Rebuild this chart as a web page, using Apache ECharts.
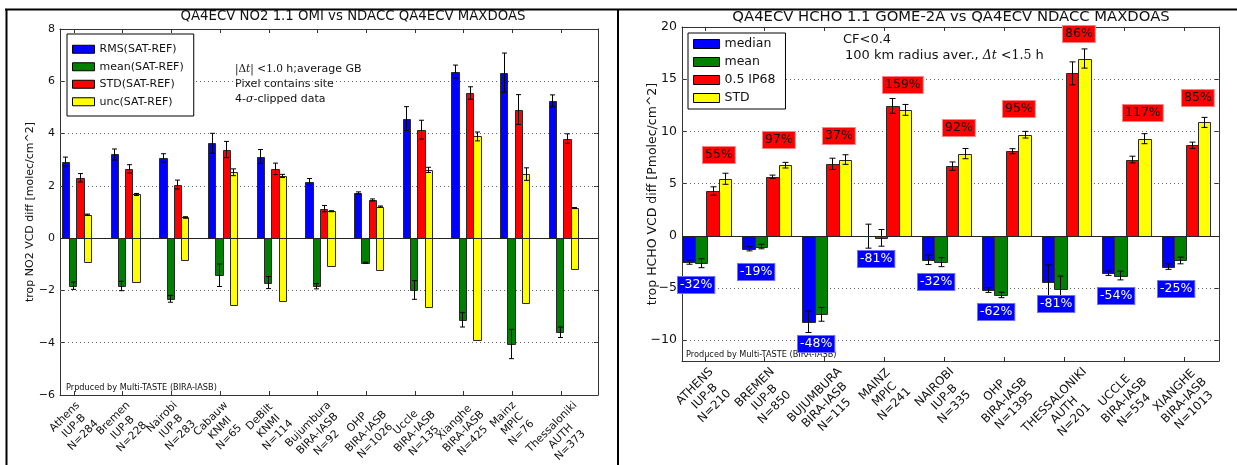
<!DOCTYPE html>
<html><head><meta charset="utf-8">
<script src="https://cdn.jsdelivr.net/npm/echarts@6/dist/echarts.min.js"></script>
<style>html,body{margin:0;padding:0;background:#fff}#c{width:1237px;height:465px}</style>
</head><body><div id="c"></div>
<script>
// ---------------- DATA ----------------
// Left chart: QA4ECV NO2 (OMI vs MAXDOAS)
const no2Categories = [
  ['Athens','IUP-B','N=284'], ['Bremen','IUP-B','N=228'], ['Nairobi','IUP-B','N=283'],
  ['Cabauw','KNMI','N=65'], ['DeBilt','KNMI','N=114'], ['Bujumbura','BIRA-IASB','N=92'],
  ['OHP','BIRA-IASB','N=1026'], ['Uccle','BIRA-IASB','N=135'], ['Xianghe','BIRA-IASB','N=425'],
  ['Mainz','MPIC','N=76'], ['Thessaloniki','AUTH','N=373']
];
const no2Rms      = [2.93, 3.20, 3.07, 3.63, 3.12, 2.15, 1.73, 4.57, 6.37, 6.33, 5.25];
const no2RmsErr   = [0.17, 0.21, 0.16, 0.38, 0.27, 0.13, 0.04, 0.46, 0.25, 0.75, 0.23];
const no2Mean     = [-1.82, -1.83, -2.32, -1.42, -1.70, -1.84, -0.94, -1.98, -3.12, -4.05, -3.60];
const no2MeanErr  = [0.14, 0.18, 0.13, 0.43, 0.23, 0.10, 0.02, 0.36, 0.28, 0.56, 0.20];
const no2Std      = [2.31, 2.65, 2.05, 3.39, 2.65, 1.13, 1.46, 4.15, 5.55, 4.92, 3.81];
const no2StdErr   = [0.16, 0.16, 0.17, 0.31, 0.22, 0.12, 0.04, 0.36, 0.24, 0.57, 0.18];
const no2UncUp    = [0.90, 1.67, 0.79, 2.52, 2.38, 1.03, 1.21, 2.61, 3.89, 2.45, 1.15];
const no2UncUpErr = [0.02, 0.04, 0.03, 0.13, 0.06, 0.02, 0.02, 0.10, 0.17, 0.24, 0.02];
const no2UncDown  = [-0.93, -1.69, -0.83, -2.57, -2.40, -1.06, -1.23, -2.65, -3.91, -2.47, -1.17];
const no2YTicks   = [-6, -4, -2, 0, 2, 4, 6, 8];
const no2GridLines = [-4, -2, 2, 4, 6];
const no2Legend   = ['RMS(SAT-REF)', 'mean(SAT-REF)', 'STD(SAT-REF)', 'unc(SAT-REF)'];

// Right chart: QA4ECV HCHO (GOME-2A vs MAXDOAS)
const hchoCategories = [
  ['ATHENS','IUP-B','N=210'], ['BREMEN','IUP-B','N=850'], ['BUJUMBURA','BIRA-IASB','N=115'],
  ['MAINZ','MPIC','N=241'], ['NAIROBI','IUP-B','N=335'], ['OHP','BIRA-IASB','N=1395'],
  ['THESSALONIKI','AUTH','N=201'], ['UCCLE','BIRA-IASB','N=554'], ['XIANGHE','BIRA-IASB','N=1013']
];
const hchoMedian    = [-2.53, -1.25, -8.24, -0.04, -2.31, -5.19, -4.39, -3.59, -2.95];
const hchoMedianErr = [0.20, 0.20, 1.03, 1.15, 0.45, 0.24, 1.60, 0.21, 0.27];
const hchoMean      = [-2.63, -1.03, -7.53, -0.20, -2.53, -5.67, -5.10, -3.81, -2.37];
const hchoMeanErr   = [0.43, 0.22, 0.66, 0.80, 0.43, 0.26, 1.23, 0.42, 0.32];
const hchoIp68      = [4.29, 5.65, 6.89, 12.44, 6.67, 8.10, 15.56, 7.30, 8.67];
const hchoIp68Err   = [0.40, 0.16, 0.54, 0.71, 0.40, 0.24, 1.10, 0.32, 0.30];
const hchoStd       = [5.46, 6.76, 7.30, 12.06, 7.87, 9.68, 16.98, 9.30, 10.86];
const hchoStdErr    = [0.53, 0.27, 0.46, 0.52, 0.49, 0.32, 0.92, 0.48, 0.48];
const hchoRedPct    = ['55%', '97%', '37%', '159%', '92%', '95%', '86%', '117%', '85%'];
const hchoRedPctY   = [7.7, 9.2, 9.6, 14.4, 10.3, 12.1, 19.3, 11.75, 13.2];
const hchoBluePct   = ['-32%', '-19%', '-48%', '-81%', '-32%', '-62%', '-81%', '-54%', '-25%'];
const hchoBluePctY  = [-4.7, -3.45, -10.4, -2.2, -4.4, -7.3, -6.5, -5.8, -5.1];
const hchoYTicks    = [-10, -5, 0, 5, 10, 15, 20];
const hchoGridLines = [-10, -5, 5, 10, 15];
const hchoLegend    = ['median', 'mean', '0.5 IP68', 'STD'];

// ---------------- LAYOUT / STYLE ----------------
const FONT = 'DejaVu Sans';
const W = 1237, H = 465;
const LG = {left: 60, top: 29, right: 598, bottom: 395, xmin: -0.287, xmax: 10.76, ymin: -6, ymax: 8};
const RG = {left: 682, top: 27, right: 1219, bottom: 361, xmin: -0.38, xmax: 8.58, ymin: -12, ymax: 20};
const BLUE = '#0000ff', GREEN = '#008000', RED = '#ff0000', YELLOW = '#ffff00';
const AXIS = '#333';

const mctx = document.createElement('canvas').getContext('2d');
function textW(s, size) { mctx.font = size + 'px "' + FONT + '"'; return mctx.measureText(s).width; }
const minus = v => String(v).replace('-', '\u2212');

function labelSetup(cats, fs, lh, g) {
  const ppu = (g.right - g.left) / (g.xmax - g.xmin);
  const h = cats[0].length * lh;
  const rich = {}, vals = [];
  cats.forEach((c, i) => {
    const w = Math.max(...c.map(s => textW(s, fs)));
    rich['c' + i] = {width: w, align: 'center', fontSize: fs, lineHeight: lh, fontFamily: FONT, color: '#111'};
    vals.push(i + 0.354 * (w - h) / ppu);
  });
  return {rich, vals, fmt: v => { const i = Math.round(v); return cats[i].map(s => '{c' + i + '|' + s + '}').join('\n'); }};
}

// three x axes per grid: bottom (line, ticks, even labels), bottom (odd labels only), top (frame + ticks)
function xAxes(gi, g, cats, fs, lh) {
  const ticks = cats.map((_, i) => i);
  const ls = labelSetup(cats, fs, lh, g);
  const common = {gridIndex: gi, type: 'value', min: g.xmin, max: g.xmax, splitLine: {show: false},
    axisLine: {onZero: false, lineStyle: {color: AXIS, width: 1}},
    axisTick: {inside: true, length: 4, customValues: ticks, lineStyle: {color: AXIS}}};
  const lab = vals => ({customValues: vals, formatter: ls.fmt, rotate: 45, align: 'right', verticalAlign: 'top',
    showMinLabel: true, showMaxLabel: true, hideOverlap: false,
    margin: 4, rich: ls.rich, fontFamily: FONT, fontSize: fs, color: '#111'});
  return [
    Object.assign({}, common, {position: 'bottom', axisLabel: lab(ls.vals.filter((_, i) => i % 2 === 0))}),
    Object.assign({}, common, {position: 'bottom', axisLine: {show: false, onZero: false}, axisTick: {show: false},
      axisLabel: lab(ls.vals.filter((_, i) => i % 2 === 1))}),
    Object.assign({}, common, {position: 'top', axisLabel: {show: false}})
  ];
}
function yAxes(gi, g, ticks, fs, name, gap) {
  const common = {gridIndex: gi, type: 'value', min: g.ymin, max: g.ymax, splitLine: {show: false},
    axisLine: {onZero: false, lineStyle: {color: AXIS, width: 1}},
    axisTick: {inside: true, length: 4, customValues: ticks, lineStyle: {color: AXIS}}};
  return [
    Object.assign({}, common, {position: 'left', name, nameLocation: 'middle', nameGap: gap, nameMoveOverlap: false,
      nameTextStyle: {fontFamily: FONT, fontSize: fs, color: '#111'},
      axisLabel: {customValues: ticks, formatter: minus, margin: 5, showMinLabel: true, showMaxLabel: true,
        fontFamily: FONT, fontSize: fs, color: '#111'}}),
    Object.assign({}, common, {position: 'right', axisLabel: {show: false}})
  ];
}

function bars(name, color, gi, values, errs, offset, width, cap) {
  return {
    type: 'custom', name, xAxisIndex: gi * 3, yAxisIndex: gi * 2, z: 3, silent: true, animation: false,
    itemStyle: {color, borderColor: '#222', borderWidth: 1},
    encode: {x: 0, y: 1},
    data: values.map((v, i) => [i + offset, v, errs ? errs[i] : 0]),
    renderItem(params, api) {
      const x = api.value(0), v = api.value(1), e = api.value(2);
      const a = api.coord([x - width / 2, 0]), b = api.coord([x + width / 2, v]);
      const x0 = Math.round(Math.min(a[0], b[0])) + 0.5, x1 = Math.round(Math.max(a[0], b[0])) + 0.5;
      const y0 = Math.round(Math.min(a[1], b[1])) + 0.5, y1 = Math.round(Math.max(a[1], b[1])) + 0.5;
      const kids = [{type: 'rect', shape: {x: x0, y: y0, width: x1 - x0, height: y1 - y0},
        style: {fill: color, stroke: '#2a2a2a', lineWidth: 1}}];
      if (e > 0) {
        const t = api.coord([x, v + e]), u = api.coord([x, v - e]);
        const cx = Math.round(t[0]) + 0.5;
        const ls = {stroke: '#000', lineWidth: 1};
        kids.push({type: 'line', shape: {x1: cx, y1: t[1], x2: cx, y2: u[1]}, style: ls});
        kids.push({type: 'line', shape: {x1: cx - cap, y1: t[1], x2: cx + cap, y2: t[1]}, style: ls});
        kids.push({type: 'line', shape: {x1: cx - cap, y1: u[1], x2: cx + cap, y2: u[1]}, style: ls});
      }
      return {type: 'group', children: kids};
    }
  };
}

function pctLabels(gi, texts, ys, offset, bg, fg, border) {
  return {
    type: 'custom', name: 'pct' + bg, xAxisIndex: gi * 3, yAxisIndex: gi * 2, z: 6, silent: true, animation: false,
    encode: {x: 0, y: 1},
    data: ys.map((y, i) => [i + offset, y]),
    renderItem(params, api) {
      const p = api.coord([api.value(0), api.value(1)]);
      return {type: 'text', x: Math.round(p[0]), y: Math.round(p[1]), style: {
        text: texts[params.dataIndex], fill: fg, fontFamily: FONT, fontSize: 12.5,
        align: 'left', verticalAlign: 'middle', backgroundColor: bg, padding: [2, 2, 1, 2],
        borderColor: border, borderWidth: 1}};
    }
  };
}

function gridLines(gi, vals) {
  return {
    type: 'line', name: 'grid' + gi, xAxisIndex: gi * 3, yAxisIndex: gi * 2, data: [], silent: true, animation: false,
    markLine: {silent: true, z: 1, symbol: ['none', 'none'], animation: false, label: {show: false},
      lineStyle: {type: [1, 3], color: '#666', width: 1},
      data: vals.map(v => ({yAxis: v}))}
  };
}
function zeroLine(gi) {
  return {
    type: 'line', name: 'zero' + gi, xAxisIndex: gi * 3, yAxisIndex: gi * 2, data: [], silent: true, animation: false,
    markLine: {silent: true, z: 10, symbol: ['none', 'none'], animation: false, label: {show: false},
      lineStyle: {type: 'solid', color: '#222', width: 1.2}, data: [{yAxis: 0}]}
  };
}

const txt = (x, y, text, fs, extra) => Object.assign({type: 'text', x, y, silent: true,
  style: Object.assign({text, fontFamily: FONT, fontSize: fs, fill: '#111', verticalAlign: 'middle'}, extra || {})});

const chart = echarts.init(document.getElementById('c'), null, {renderer: 'canvas'});
chart.setOption({
  animation: false,
  backgroundColor: '#fff',
  grid: [
    {left: LG.left, top: LG.top, right: W - LG.right, bottom: H - LG.bottom, containLabel: false, outerBoundsMode: 'none'},
    {left: RG.left, top: RG.top, right: W - RG.right, bottom: H - RG.bottom, containLabel: false, outerBoundsMode: 'none'}
  ],
  xAxis: [...xAxes(0, LG, no2Categories, 10.8, 13), ...xAxes(1, RG, hchoCategories, 11.8, 14)],
  yAxis: [...yAxes(0, LG, no2YTicks, 11, 'trop NO2 VCD diff [molec/cm^2]', 24),
          ...yAxes(1, RG, hchoYTicks, 12.5, 'trop HCHO VCD diff [Pmolec/cm^2]', 23)],
  legend: [
    {data: no2Legend, orient: 'vertical', left: 67, top: 34, icon: 'rect', itemWidth: 22, itemHeight: 8, itemGap: 5,
      backgroundColor: '#fff', borderColor: '#000', borderWidth: 1, padding: [9, 10, 8, 5], selectedMode: false,
      textStyle: {fontFamily: FONT, fontSize: 11, color: '#111', lineHeight: 12.5},
      itemStyle: {borderColor: '#000', borderWidth: 1}},
    {data: hchoLegend, orient: 'vertical', left: 688, top: 33, icon: 'rect', itemWidth: 26, itemHeight: 9, itemGap: 4,
      backgroundColor: '#fff', borderColor: '#000', borderWidth: 1, padding: [4, 10, 4, 5], selectedMode: false,
      textStyle: {fontFamily: FONT, fontSize: 12.5, color: '#111', lineHeight: 14},
      itemStyle: {borderColor: '#000', borderWidth: 1}}
  ],
  graphic: [
    // page frame (table borders)
    {type: 'line', silent: true, shape: {x1: 5, y1: 9.5, x2: 1237, y2: 9.5}, style: {stroke: '#000', lineWidth: 2}},
    {type: 'line', silent: true, shape: {x1: 6.5, y1: 9, x2: 6.5, y2: 465}, style: {stroke: '#000', lineWidth: 2}},
    {type: 'line', silent: true, shape: {x1: 618, y1: 9, x2: 618, y2: 465}, style: {stroke: '#000', lineWidth: 2}},
    // titles
    txt(353, 17, 'QA4ECV NO2 1.1 OMI vs NDACC QA4ECV MAXDOAS', 13.3, {align: 'center'}),
    txt(951, 17, 'QA4ECV HCHO 1.1 GOME-2A vs QA4ECV NDACC MAXDOAS', 14.8, {align: 'center'}),
    // left annotations
    txt(235, 69, '{m||\u0394}{mi|t}{m||} {m|<1.0} h;average GB', 11, {rich: {
      m: {fontFamily: 'DejaVu Serif', fontSize: 10.5, color: '#333'},
      mi: {fontFamily: 'DejaVu Serif', fontSize: 10.5, fontStyle: 'italic', color: '#333'}}}),
    txt(235, 84, 'Pixel contains site', 11),
    txt(235, 99, '4-{mi|\u03c3}-clipped data', 11, {rich: {
      mi: {fontFamily: 'DejaVu Serif', fontSize: 11, fontStyle: 'italic', color: '#111'}}}),
    txt(66, 388, 'Prpduced by Multi-TASTE (BIRA-IASB)', 8.2),
    // right annotations
    txt(843, 40, 'CF<0.4', 13),
    txt(845, 56, '100 km radius aver., {mi|\u0394t} {m|<1.5} h', 13, {rich: {
      m: {fontFamily: 'DejaVu Serif', fontSize: 12.5, color: '#333'},
      mi: {fontFamily: 'DejaVu Serif', fontSize: 12.5, fontStyle: 'italic', color: '#333'}}}),
    txt(686, 355, 'Produced by Multi-TASTE (BIRA-IASB)', 8.2)
  ],
  series: [
    gridLines(0, no2GridLines),
    bars('RMS(SAT-REF)', BLUE, 0, no2Rms, no2RmsErr, -0.175, 0.15, 2.5),
    bars('mean(SAT-REF)', GREEN, 0, no2Mean, no2MeanErr, -0.025, 0.15, 2.5),
    bars('STD(SAT-REF)', RED, 0, no2Std, no2StdErr, 0.125, 0.15, 2.5),
    bars('unc(SAT-REF)', YELLOW, 0, no2UncUp, no2UncUpErr, 0.275, 0.15, 2.5),
    bars('unc(SAT-REF)', YELLOW, 0, no2UncDown, null, 0.275, 0.15, 2.5),
    zeroLine(0),
    gridLines(1, hchoGridLines),
    bars('median', BLUE, 1, hchoMedian, hchoMedianErr, -0.27, 0.205, 3),
    bars('mean', GREEN, 1, hchoMean, hchoMeanErr, -0.065, 0.205, 3),
    bars('0.5 IP68', RED, 1, hchoIp68, hchoIp68Err, 0.13, 0.205, 3),
    bars('STD', YELLOW, 1, hchoStd, hchoStdErr, 0.335, 0.205, 3),
    zeroLine(1),
    pctLabels(1, hchoRedPct, hchoRedPctY, -0.03, RED, '#111', '#ff8080'),
    pctLabels(1, hchoBluePct, hchoBluePctY, -0.44, BLUE, '#fff', '#7070ff')
  ]
});
</script></body></html>
